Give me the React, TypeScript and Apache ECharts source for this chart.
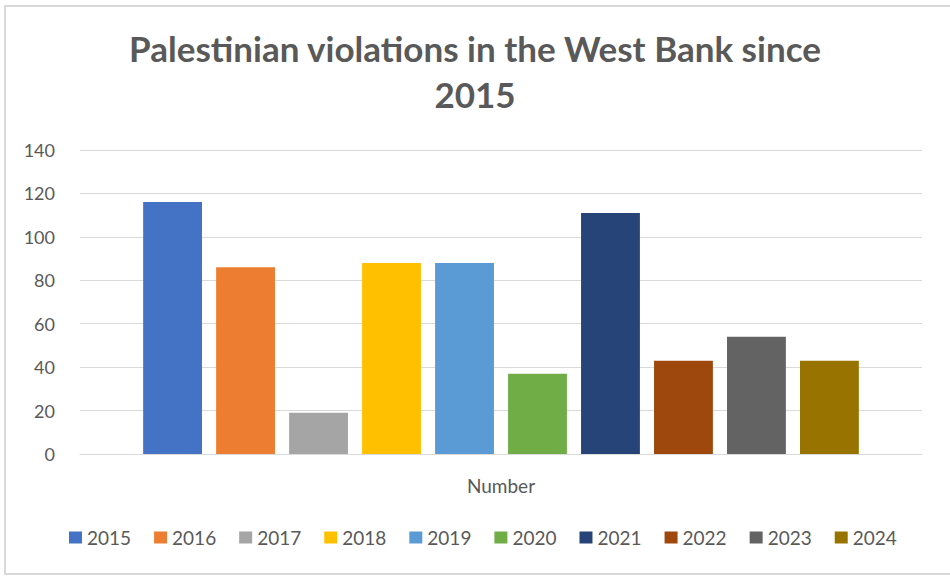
import React, { useEffect, useRef } from "react";
import * as echarts from "echarts";

const categories = ["Number"];
const years = ["2015", "2016", "2017", "2018", "2019", "2020", "2021", "2022", "2023", "2024"];
const values = [116, 86, 19, 88, 88, 37, 111, 43, 54, 43];
const colors = ["#4472c4", "#ed7d31", "#a5a5a5", "#ffc000", "#5b9bd5", "#70ad47", "#264478", "#9e480e", "#636363", "#997300"];
const yTicks = { min: 0, max: 140, interval: 20 };
const titleText = "Palestinian violations in the West Bank since\n2015";

const FONT = "Lato, 'Open Sans', sans-serif";

export default function App() {
  const ref = useRef<HTMLDivElement>(null);
  useEffect(() => {
    if (!ref.current) return;
    const chart = echarts.init(ref.current, null, { renderer: "svg" });
    chart.setOption({
      animation: false,
      backgroundColor: "#ffffff",
      color: colors,
      textStyle: { fontFamily: FONT },
      title: {
        text: titleText,
        left: "center",
        top: 20,
        textStyle: {
          fontFamily: FONT,
          fontSize: 35,
          fontWeight: "bold",
          color: "#595959",
          lineHeight: 46,
        },
      },
      legend: {
        bottom: 24,
        left: 64,
        itemWidth: 13,
        itemHeight: 12,
        itemGap: 23,
        icon: "rect",
        textStyle: { fontFamily: FONT, fontSize: 19, color: "#595959" },
        data: years,
      },
      grid: { left: 80, right: 28, top: 150, bottom: 122, containLabel: false },
      xAxis: {
        type: "category",
        data: categories,
        axisLine: { show: true, lineStyle: { color: "#d9d9d9", width: 1 } },
        axisTick: { show: false },
        axisLabel: { fontFamily: FONT, fontSize: 19, color: "#595959", margin: 22 },
      },
      yAxis: {
        type: "value",
        min: yTicks.min,
        max: yTicks.max,
        interval: yTicks.interval,
        axisLine: { show: false },
        axisTick: { show: false },
        splitLine: { lineStyle: { color: "#d9d9d9", width: 1 } },
        axisLabel: { fontFamily: FONT, fontSize: 18, color: "#595959", margin: 25 },
      },
      graphic: [
        {
          type: "rect",
          shape: { x: 5, y: 6, width: 960, height: 568 },
          style: { fill: "none", stroke: "#d9d9d9", lineWidth: 2 },
          silent: true,
          z: 100,
        },
      ],
      series: years.map((y, i) => ({
        name: y,
        type: "bar",
        data: [values[i]],
        barGap: "24%",
        barCategoryGap: "15%",
        itemStyle: { color: colors[i] },
      })),
    });
    return () => chart.dispose();
  }, []);
  return (
    <div
      ref={ref}
      style={{ position: "absolute", left: 0, top: 0, width: 950, height: 576 }}
    />
  );
}
